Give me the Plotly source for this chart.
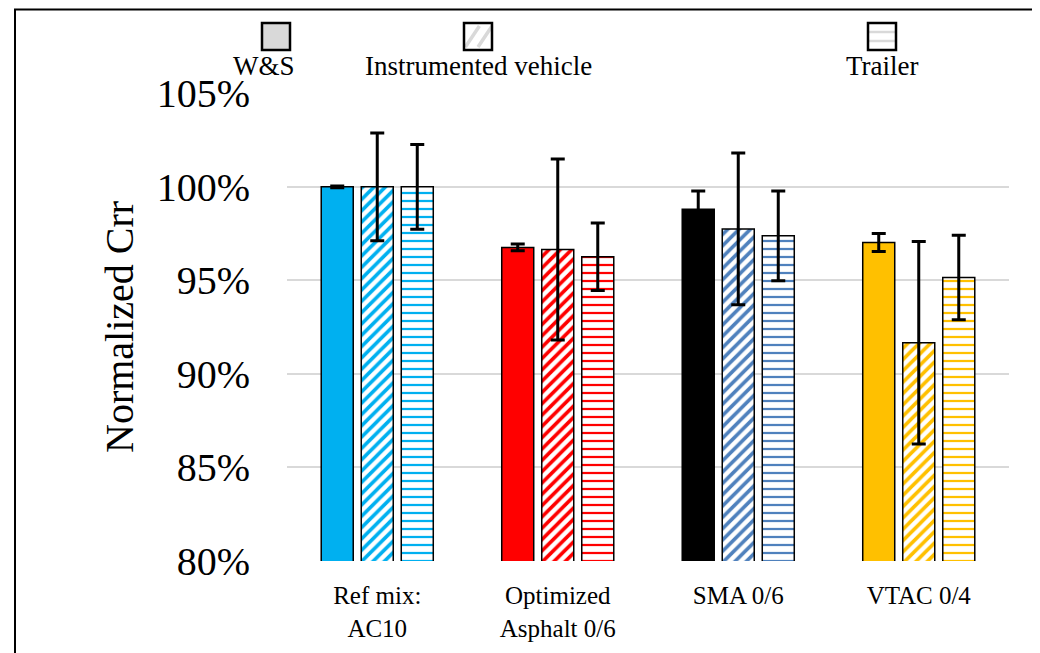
import plotly.graph_objects as go

# ---- data ----
categories = ["Ref mix:<br>AC10", "Optimized<br>Asphalt 0/6", "SMA 0/6", "VTAC 0/4"]
series_names = ["W&S", "Instrumented vehicle", "Trailer"]
ws_values = [100.0, 96.76, 98.80, 97.02]
ws_errors = [0.05, 0.18, 0.98, 0.48]
inst_values = [100.0, 96.65, 97.75, 91.66]
inst_errors = [2.88, 4.84, 4.06, 5.42]
trailer_values = [100.0, 96.26, 97.38, 95.15]
trailer_errors = [2.27, 1.81, 2.40, 2.26]
solid_colors = ["#00B0F0", "#FF0000", "#000000", "#FFC000"]
pattern_colors = ["#00B0F0", "#FF0000", "#4F81BD", "#FFC000"]
y_ticks = [80, 85, 90, 95, 100, 105]
y_tick_labels = ["80%", "85%", "90%", "95%", "100%", "105%"]
y_title = "Normalized Crr"

OFF = 8  # page body margin offset
W, H = 1040 - OFF, 653 - OFF  # keep the figure inside the window (no scrollbars)
# plot area in page pixels: x 287..1009, y 93..561
L, T = 287 - OFF, 93 - OFF
R, B = W - (1009 - OFF), H - (561 - OFF)
PW, PH = W - L - R, H - T - B
FONT = "Liberation Serif, Times New Roman, serif"


def px(x):
    return (x - OFF - L) / PW


def py(y):
    return (H - B - (y - OFF)) / PH


err_style = dict(type="data", visible=True, color="black", thickness=3, width=7)
outline = dict(color="black", width=1.5)

fig = go.Figure()
fig.add_trace(go.Bar(
    x=categories, y=ws_values, name=series_names[0], showlegend=False,
    marker=dict(color=solid_colors, line=outline),
    error_y=dict(array=ws_errors, **err_style),
))
fig.add_trace(go.Bar(
    x=categories, y=inst_values, name=series_names[1], showlegend=False,
    marker=dict(color="white", line=outline,
                pattern=dict(shape="/", fgcolor=pattern_colors, bgcolor="white",
                             fillmode="overlay", fgopacity=1, size=8, solidity=0.45)),
    error_y=dict(array=inst_errors, **err_style),
))
fig.add_trace(go.Bar(
    x=categories, y=trailer_values, name=series_names[2], showlegend=False,
    marker=dict(color="white", line=outline,
                pattern=dict(shape="-", fgcolor=pattern_colors, bgcolor="white",
                             fillmode="overlay", fgopacity=1, size=8, solidity=0.28)),
    error_y=dict(array=trailer_errors, **err_style),
))

# ---- custom legend (swatch above text, Excel style) ----
shapes = []
annotations = []
sw_centers = [276, 478, 882]
txt_centers = [264, 478, 882]
sw_w, sw_h, sw_top = 28, 27, 23
for i, name in enumerate(series_names):
    cx = sw_centers[i]
    x0, x1 = cx - sw_w / 2, cx + sw_w / 2
    y0, y1 = sw_top, sw_top + sw_h
    fill = "#D9D9D9" if i == 0 else "white"
    if i == 1:
        for k in (0.3, 0.75):
            shapes.append(dict(type="line", xref="paper", yref="paper",
                               x0=px(x0 + 3 + k * sw_w - 10), y0=py(y1 - 3),
                               x1=px(x0 + 3 + k * sw_w + 4), y1=py(y0 + 3),
                               line=dict(color="#D9D9D9", width=3.5)))
    if i == 2:
        for k in (1 / 3, 2 / 3):
            shapes.append(dict(type="line", xref="paper", yref="paper",
                               x0=px(x0 + 1), y0=py(y0 + k * sw_h),
                               x1=px(x1 - 1), y1=py(y0 + k * sw_h),
                               line=dict(color="#D9D9D9", width=2.5)))
    shapes.insert(0, dict(type="rect", xref="paper", yref="paper",
                          x0=px(x0), x1=px(x1), y0=py(y1), y1=py(y0),
                          fillcolor=fill, line=dict(width=0), layer="above"))
    shapes.append(dict(type="rect", xref="paper", yref="paper",
                       x0=px(x0), x1=px(x1), y0=py(y1), y1=py(y0),
                       fillcolor="rgba(0,0,0,0)", line=dict(color="black", width=2.5)))
    annotations.append(dict(text=name, xref="paper", yref="paper",
                            x=px(txt_centers[i]), y=py(66), xanchor="center", yanchor="middle",
                            showarrow=False, font=dict(family=FONT, size=27, color="black")))

# y-axis title, rotated
annotations.append(dict(text=y_title, xref="paper", yref="paper", textangle=-90,
                        x=px(119), y=0.5, xanchor="center", yanchor="middle",
                        showarrow=False, font=dict(family=FONT, size=40, color="black")))

# outer chart border (right and bottom edges fall outside the picture)
shapes.append(dict(type="rect", xref="paper", yref="paper",
                   x0=px(15), y0=py(670), x1=px(1060), y1=py(9.5),
                   line=dict(color="black", width=2), fillcolor="rgba(0,0,0,0)"))

fig.update_layout(
    width=W, height=H,
    margin=dict(l=L, r=R, t=T, b=B, autoexpand=False),
    paper_bgcolor="white", plot_bgcolor="white",
    barmode="group", bargap=0.335, bargroupgap=0.2,
    font=dict(family=FONT, color="black"),
    shapes=shapes, annotations=annotations,
    showlegend=False,
)
fig.update_yaxes(
    range=[79.98, 105.02], tickvals=y_ticks, ticktext=y_tick_labels,
    showgrid=True, gridcolor="#D9D9D9", gridwidth=1.5,
    zeroline=False, showline=False, ticks="",
    tickfont=dict(family=FONT, size=40, color="black"),
    ticklabelstandoff=36,
)
fig.update_xaxes(
    showgrid=False, showline=False, ticks="",
    tickfont=dict(family=FONT, size=25, color="black"),
    ticklabelstandoff=17,
)

fig.write_html("out.html")
